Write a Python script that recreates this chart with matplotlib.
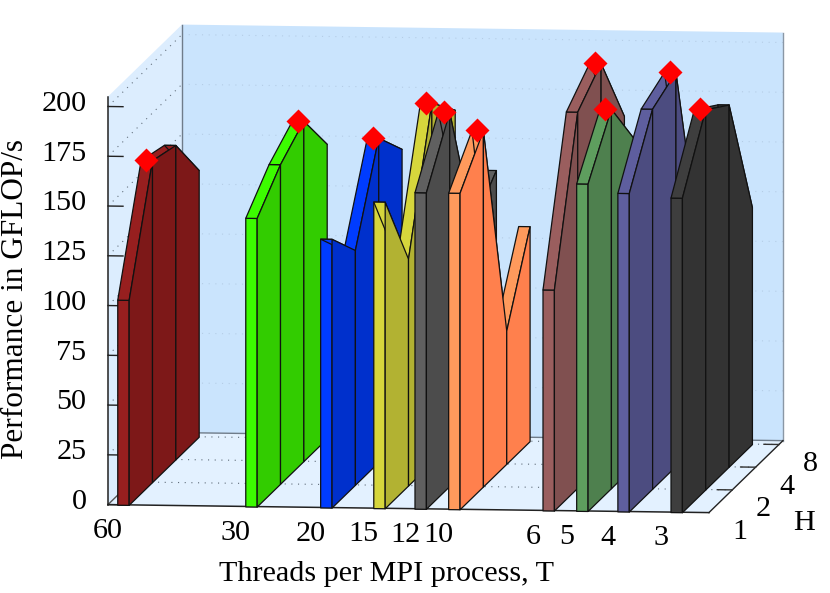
import numpy as np
import matplotlib
matplotlib.use("Agg")
import matplotlib.pyplot as plt
from mpl_toolkits.mplot3d import proj3d
from mpl_toolkits.mplot3d.art3d import Poly3DCollection

plt.rcParams['font.family'] = ['Liberation Serif', 'DejaVu Serif']

# Data
threads = [60, 30, 20, 15, 12, 10, 6, 5, 4, 3]
hybrid = [1, 2, 4, 8]
perf_60 = [103, 161.7, 158, 134]
perf_30 = [145, 160.6, 171, 148]
perf_20 = [135, 118, 163, 146]
perf_15 = [154, 114, 181, 166]
perf_12 = [159, 188, 120, 136]
perf_10 = [159, 179, 67, 108]
perf_6 = [111, 189, 202, 164]
perf_5 = [164.5, 190.6, 164, 152]
perf_4 = [160, 191, 198, 99]
perf_3 = [158, 191, 182, 119]
perf = [perf_60, perf_30, perf_20, perf_15, perf_12, perf_10, perf_6, perf_5, perf_4, perf_3]
z_ticks = [0, 25, 50, 75, 100, 125, 150, 175, 200]
light = ['#971F1F', '#3CFC00', '#003CFF', '#D6D63C', '#606060', '#FF9A5C', '#9A5E5E', '#5E9E5E', '#5E5E9E', '#3E3E3E']
dark = ['#7D1818', '#32CC00', '#0030CC', '#B2B232', '#4C4C4C', '#FF804D', '#805050', '#4E804E', '#4C4C80', '#333333']

W, H_ = 830, 593
fig = plt.figure(figsize=(W / 100, H_ / 100), dpi=100)
fig.patch.set_facecolor('white')
ax = fig.add_axes([-1, -1, 3, 3], projection='3d', proj_type='ortho', computed_zorder=False)
ax.set_axis_off()
ax.patch.set_visible(False)


def tx(t):
    return np.log(60.0 / t)


def ty(h):
    return np.log2(h)


x0, x1 = -0.081, 3.173
y0, y1 = 0.0, np.log2(9)
z0, z1 = 0.0, 205.0
ax.set_xlim(x0, x1, view_margin=0)
ax.set_ylim(y0, y1, view_margin=0)
ax.set_zlim(z0, z1, view_margin=0)
ax.view_init(elev=6.53, azim=-83.33)
box = (605.0, 637.0, 410.7)
ax.set_box_aspect(box, zoom=1.0)


def to_px(x, y, z):
    ax.apply_aspect()
    X, Y, _ = proj3d.proj_transform(x, y, z, ax.get_proj())
    return ax.transData.transform((X, Y))


# Calibrate the view so that the box lands where the reference has it
p_a = to_px(x0, y0, z0)
p_b = to_px(x1, y0, z0)
ax.set_box_aspect(box, zoom=601.0 / np.hypot(*(p_b - p_a)))
p_a = to_px(x0, y0, z0)
want = np.array([108.0, H_ - 504.6])
shift = (want - p_a) / np.array([W, H_])
ax.set_position([-1 + shift[0], -1 + shift[1], 3, 3])


def label(x, y, z, s, ha):
    px, py = to_px(x, y, z)
    fig.text(px / W, py / H_, s, fontsize=fs, ha=ha, va='center')


# Walls
back_c, left_c, floor_c = '#CAE4FD', '#DCEDFE', '#E3F1FF'
walls = [
    ([(x0, y1, z0), (x1, y1, z0), (x1, y1, z1), (x0, y1, z1)], back_c),
    ([(x0, y0, z0), (x0, y1, z0), (x0, y1, z1), (x0, y0, z1)], left_c),
    ([(x0, y0, z0), (x1, y0, z0), (x1, y1, z0), (x0, y1, z0)], floor_c),
]
for verts, col in walls:
    ax.add_collection3d(Poly3DCollection([verts], facecolors=col, edgecolors='none', zorder=1))

dot = (0, (1, 5))
# Grid
for z in z_ticks[1:]:
    ax.plot([x0, x0], [y0, y1], [z, z], color='#667380', lw=0.8, ls=dot, zorder=2)
    ax.plot([x0, x1], [y1, y1], [z, z], color='#b5cde6', lw=0.8, ls=dot, zorder=2)
for h in hybrid[1:]:
    ax.plot([x0, x1], [ty(h), ty(h)], [0, 0], color='#5f6c79', lw=0.8, ls=dot, zorder=2)

# Box edges
ax.plot([x0, x1], [y1, y1], [0, 0], color='#6f7c8a', lw=1.0, zorder=3)
ax.plot([x0, x0], [y1, y1], [0, z1], color='#6f7c8a', lw=1.0, zorder=3)
ax.plot([x1, x1], [y1, y1], [0, z1], color='#8a97a5', lw=1.0, zorder=3)
ax.plot([x0, x0], [y0, y1], [0, 0], color='#555555', lw=1.0, zorder=3)
ax.plot([x0, x0], [y0, y0], [0, z1], color='#222222', lw=1.1, zorder=3)
ax.plot([x0, x1], [y0, y0], [0, 0], color='#222222', lw=1.1, zorder=3)
ax.plot([x1, x1], [y0, y1], [0, 0], color='#222222', lw=1.0, zorder=3)

# Ticks
tick_x = 15.0 / 184.7
for z in z_ticks:
    ax.plot([x0, x0 + tick_x], [y0, y0], [z, z], color='#222222', lw=1.0, zorder=3)
for h in hybrid[1:]:
    ax.plot([x1 - tick_x, x1], [ty(h), ty(h)], [0, 0], color='#333333', lw=1.0, zorder=3)

# Fences, left to right
half = 5.7 / 184.7
edge = dict(edgecolors='#111111', linewidths=0.9)
order = 10
ys = [ty(h) for h in hybrid]
for i, t in enumerate(threads):
    xc = tx(t)
    xa, xb = xc - half, xc + half
    vals = perf[i]
    # front face
    ax.add_collection3d(Poly3DCollection(
        [[(xa, ys[0], 0), (xb, ys[0], 0), (xb, ys[0], vals[0]), (xa, ys[0], vals[0])]],
        facecolors=light[i], zorder=order, **edge))
    order += 1
    # top strips
    for k in range(3):
        ax.add_collection3d(Poly3DCollection(
            [[(xa, ys[k], vals[k]), (xb, ys[k], vals[k]), (xb, ys[k + 1], vals[k + 1]), (xa, ys[k + 1], vals[k + 1])]],
            facecolors=light[i], zorder=order, **edge))
        order += 1
    # side faces
    for k in range(3):
        ax.add_collection3d(Poly3DCollection(
            [[(xb, ys[k], 0), (xb, ys[k + 1], 0), (xb, ys[k + 1], vals[k + 1]), (xb, ys[k], vals[k])]],
            facecolors=dark[i], zorder=order, **edge))
        order += 1

# Best configuration per T
for i, t in enumerate(threads):
    k = int(np.argmax(perf[i]))
    ax.plot([tx(t)], [ys[k]], [perf[i][k]], marker='D', ms=12.5, color='#FF0000', mec='none',
            ls='none', zorder=1000)

# Tick labels
fs = 21.7
for t in threads:
    label(tx(t) - 15.2 / 184.7, 0, -13.3, str(t), 'center')
for z in z_ticks:
    label(x0 - 21.5 / 184.7, 0, z + 1.2, str(z), 'right')
for h in hybrid:
    label(x1 + 31.0 / 184.7, ty(h), -9.5, str(h), 'center')

fig.text(386 / W, 1 - 574 / H_, 'Threads per MPI process, T', fontsize=fs, ha='center', va='center')
fig.text(804 / W, 1 - 523 / H_, 'H', fontsize=fs, ha='center', va='center')
fig.text(16 / W, 1 - 299 / H_, 'Performance in GFLOP/s', fontsize=22.5, rotation=90, ha='center', va='center')

fig.savefig('out.png', dpi=100)
